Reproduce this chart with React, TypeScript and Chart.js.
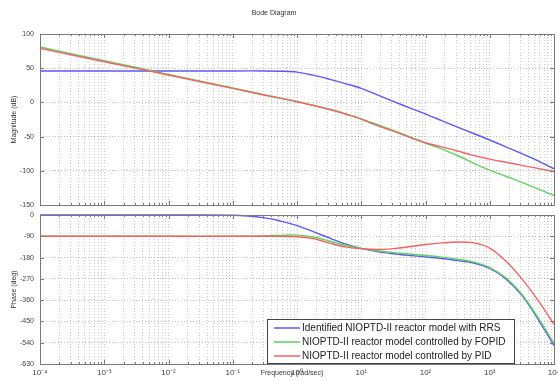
import React, { useEffect, useRef } from 'react';
import { Chart, registerables } from 'chart.js';
Chart.register(...registerables);

// ---- data (frequency in rad/sec) ----
const FREQ = [1e-4, 1e-3, 1e-2, 1e-1, 0.316, 0.562, 1, 1.78, 3.16, 5.62, 10, 17.8, 31.6, 56.2, 100, 178, 316, 562, 1000, 1780, 3160, 5620, 10000];
const MAG_RRS = [46, 46, 46, 46, 46, 45.6, 44.3, 39.8, 34, 27.5, 20.5, 11, 1.5, -8, -17, -26.5, -36, -45.5, -55, -65, -75, -85.5, -97];
const MAG_FOPID = [81, 61, 41, 21, 11, 6.2, 1.5, -4, -10, -16.5, -24, -32.5, -41, -50, -59.5, -68, -78, -89, -99, -108, -117, -126.5, -136];
const MAG_PID = [79, 59.5, 40, 20.5, 10.5, 5.8, 1, -4.5, -10, -17, -24.5, -34, -42, -51, -59, -65, -71, -77.5, -83, -87.5, -92, -96.5, -101];
const PHASE_RRS = [0, 0, 0, -1, -12, -26, -45, -70, -97, -122, -141, -155, -164, -171, -177, -184, -193, -203, -226, -270, -340, -440, -552];
const PHASE_FOPID = [-90, -90, -90, -90, -88, -86, -85, -93, -110, -128, -141, -151, -159, -165, -171, -178, -187, -199, -222, -265, -335, -433, -542];
const PHASE_PID = [-90, -90, -90, -90, -90, -90.5, -92, -100, -118, -135, -143, -146, -142, -134, -125, -118, -114, -118, -140, -195, -270, -360, -462];

const SERIES_NAMES = [
  'Identified NIOPTD-II reactor model with RRS',
  'NIOPTD-II reactor model controlled by FOPID',
  'NIOPTD-II reactor model controlled by PID',
];
const SERIES_COLORS = ['#5a5af5', '#5fd25f', '#f46262'];

const DECADES = [-4, -3, -2, -1, 0, 1, 2, 3, 4];
const MINOR_MULT = [1, 2, 3, 4, 5, 6, 7, 8, 9];
const MAG_TICKS = { min: -150, max: 100, step: 50 };
const PHASE_TICKS = { min: -630, max: 0, step: 90 };

const TITLE = 'Bode Diagram';
const MAG_LABEL = 'Magnitude (dB)';
const PHASE_LABEL = 'Phase (deg)';
const FREQ_LABEL = 'Frequency (rad/sec)';

const W = 558;
const H = 381;
const FONT = '"Liberation Sans", Arial, sans-serif';

const SUP: Record<string, string> = { '-': '⁻', '0': '⁰', '1': '¹', '2': '²', '3': '³', '4': '⁴', '5': '⁵', '6': '⁶', '7': '⁷', '8': '⁸', '9': '⁹' };
const supStr = (n: number) => String(n).split('').map((c) => SUP[c] || c).join('');

const X_TICKS: { value: number; major: boolean; exp: number }[] = [];
DECADES.forEach((e) => {
  if (e === DECADES[DECADES.length - 1]) {
    X_TICKS.push({ value: Math.pow(10, e), major: true, exp: e });
  } else {
    MINOR_MULT.forEach((m) => X_TICKS.push({ value: m * Math.pow(10, e), major: m === 1, exp: e }));
  }
});

const toXY = (ys: number[]) => FREQ.map((f, i) => ({ x: f, y: ys[i] }));

const framePlugin = {
  id: 'frame',
  afterDraw(chart: any) {
    const { ctx, chartArea: a, scales } = chart;
    ctx.save();
    ctx.strokeStyle = '#7a7a7a';
    ctx.lineWidth = 1;
    ctx.beginPath();
    X_TICKS.forEach((t) => {
      const px = Math.round(scales.x.getPixelForValue(t.value)) + 0.5;
      const len = t.major ? 4 : 2;
      ctx.moveTo(px, a.bottom);
      ctx.lineTo(px, a.bottom - len);
      ctx.moveTo(px, a.top);
      ctx.lineTo(px, a.top + len);
    });
    scales.y.ticks.forEach((t: any) => {
      const py = Math.round(scales.y.getPixelForValue(t.value)) + 0.5;
      ctx.moveTo(a.left, py);
      ctx.lineTo(a.left + 4, py);
      ctx.moveTo(a.right, py);
      ctx.lineTo(a.right - 4, py);
    });
    ctx.stroke();
    ctx.strokeRect(Math.round(a.left) + 0.5, Math.round(a.top) + 0.5, Math.round(a.right - a.left), Math.round(a.bottom - a.top));
    ctx.restore();
  },
};

const textPlugin = (isTop: boolean) => ({
  id: 'texts',
  afterDraw(chart: any) {
    const { ctx, chartArea: a } = chart;
    ctx.save();
    ctx.fillStyle = '#333';
    ctx.textBaseline = 'middle';
    ctx.textAlign = 'center';
    ctx.font = `7px ${FONT}`;
    if (isTop) {
      ctx.fillText(TITLE, 274, 13);
      ctx.save();
      ctx.translate(14, (a.top + a.bottom) / 2);
      ctx.rotate(-Math.PI / 2);
      ctx.fillText(MAG_LABEL, 0, 0);
      ctx.restore();
    } else {
      ctx.save();
      ctx.translate(14, (a.top + a.bottom) / 2);
      ctx.rotate(-Math.PI / 2);
      ctx.fillText(PHASE_LABEL, 0, 0);
      ctx.restore();
      ctx.fillText(FREQ_LABEL, 292, 373);
      // legend
      const lx = 267, ly = 319, lw = 247, lh = 44;
      ctx.fillStyle = '#ffffff';
      ctx.fillRect(lx, ly, lw, lh);
      ctx.strokeStyle = '#444';
      ctx.lineWidth = 1;
      ctx.strokeRect(lx + 0.5, ly + 0.5, lw, lh);
      ctx.font = `10px ${FONT}`;
      ctx.textAlign = 'left';
      SERIES_NAMES.forEach((name, i) => {
        const y = ly + 9 + i * 14;
        ctx.strokeStyle = SERIES_COLORS[i];
        ctx.lineWidth = 1.5;
        ctx.beginPath();
        ctx.moveTo(274, y);
        ctx.lineTo(300, y);
        ctx.stroke();
        ctx.fillStyle = '#222';
        ctx.fillText(name, 302, y + 0.5);
      });
    }
    ctx.restore();
  },
});

function makeConfig(isTop: boolean): any {
  const series = isTop ? [MAG_RRS, MAG_FOPID, MAG_PID] : [PHASE_RRS, PHASE_FOPID, PHASE_PID];
  const yt = isTop ? MAG_TICKS : PHASE_TICKS;
  return {
    type: 'line',
    data: {
      datasets: series.map((s, i) => ({
        label: SERIES_NAMES[i],
        data: toXY(s),
        borderColor: SERIES_COLORS[i],
        backgroundColor: SERIES_COLORS[i],
        borderWidth: 1.4,
        pointRadius: 0,
        tension: 0.35,
        fill: false,
        clip: 3,
        order: 3 - i,
      })),
    },
    options: {
      responsive: false,
      animation: false,
      events: [],
      layout: { padding: isTop ? { left: 0, right: 4, top: 34, bottom: H - 205 } : { left: 0, right: 4, top: 215, bottom: 0 } },
      plugins: { legend: { display: false }, title: { display: false }, tooltip: { enabled: false } },
      scales: {
        x: {
          type: 'logarithmic',
          min: 1e-4,
          max: 1e4,
          afterBuildTicks: (scale: any) => {
            scale.ticks = X_TICKS.map((t) => ({ value: t.value, major: t.major }));
          },
          afterFit: (scale: any) => {
            scale.height = isTop ? 0 : H - 364;
            scale.paddingLeft = 0;
            scale.paddingRight = 0;
          },
          grid: { color: 'rgba(0,0,0,0.2)', lineWidth: 1, drawTicks: false },
          border: { display: false, dash: [1, 2] },
          ticks: {
            display: !isTop,
            autoSkip: false,
            maxRotation: 0,
            minRotation: 0,
            padding: 4,
            color: '#444',
            font: { family: FONT, size: 8 },
            callback: (_v: any, i: number) => (X_TICKS[i] && X_TICKS[i].major ? '10' + supStr(X_TICKS[i].exp) : ''),
          },
        },
        y: {
          type: 'linear',
          min: yt.min,
          max: yt.max,
          afterFit: (scale: any) => {
            scale.width = 40;
          },
          grid: { color: 'rgba(0,0,0,0.25)', lineWidth: 1, drawTicks: false },
          border: { display: false, dash: [1, 2] },
          ticks: {
            stepSize: yt.step,
            padding: 6,
            color: '#444',
            font: { family: FONT, size: 7 },
            callback: (v: any) => String(v),
          },
        },
      },
    },
    plugins: [framePlugin, textPlugin(isTop)],
  };
}

export default function App() {
  const topRef = useRef<HTMLCanvasElement | null>(null);
  const botRef = useRef<HTMLCanvasElement | null>(null);
  useEffect(() => {
    const c1 = new Chart(topRef.current as HTMLCanvasElement, makeConfig(true));
    const c2 = new Chart(botRef.current as HTMLCanvasElement, makeConfig(false));
    return () => {
      c1.destroy();
      c2.destroy();
    };
  }, []);
  const cs: React.CSSProperties = { position: 'absolute', left: 0, top: 0, width: W, height: H };
  return (
    <div style={{ position: 'fixed', left: 0, top: 0, width: W, height: H, background: '#fff' }}>
      <canvas ref={topRef} width={W} height={H} style={cs} />
      <canvas ref={botRef} width={W} height={H} style={cs} />
    </div>
  );
}
